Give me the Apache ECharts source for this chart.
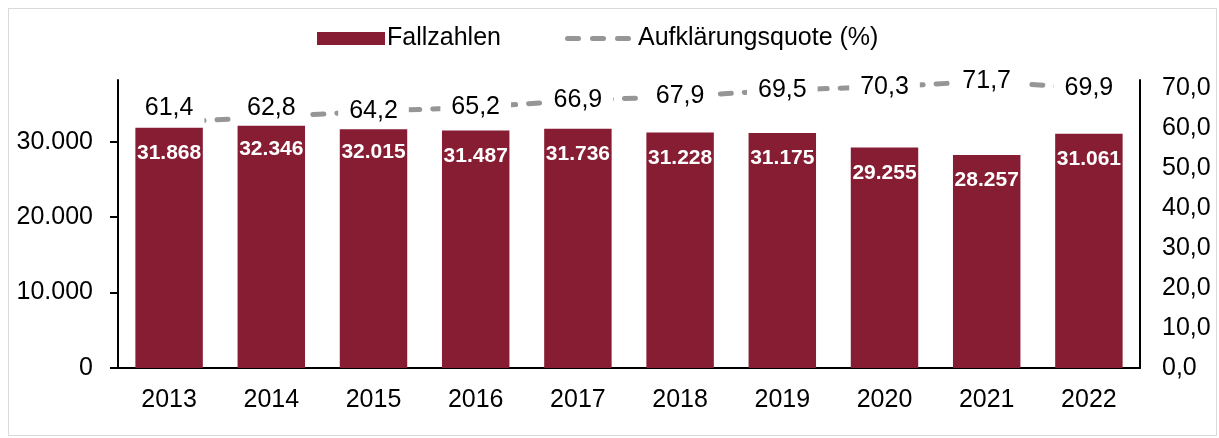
<!DOCTYPE html>
<html>
<head>
<meta charset="utf-8">
<script src="https://cdn.jsdelivr.net/npm/echarts@6/dist/echarts.min.js"></script>
<style>
  html, body { margin: 0; padding: 0; background: #fff; }
  #frame { position: absolute; left: 8px; top: 8px; width: 1209px; height: 428px; border: 1px solid #d9d9d9; box-sizing: border-box; }
  #chart { position: absolute; left: 0; top: 0; width: 1219px; height: 438px; }
</style>
</head>
<body>
<div id="frame"></div>
<div id="chart"></div>
<script>
// data
const years = ['2013', '2014', '2015', '2016', '2017', '2018', '2019', '2020', '2021', '2022'];
const fallzahlen = [31868, 32346, 32015, 31487, 31736, 31228, 31175, 29255, 28257, 31061];
const quote = [61.4, 62.8, 64.2, 65.2, 66.9, 67.9, 69.5, 70.3, 71.7, 69.9];

// first two quote labels are lifted above the point (px), the rest sit on it
const labelLift = [14, 9, 0, 0, 0, 0, 0, 0, 0, 0];

const barColor = '#861d33';
const lineColor = '#969696';
const font = 'Liberation Sans, Arial, sans-serif';

// german number formats
function fmtThousands(v) {
    return String(Math.round(v)).replace(/\B(?=(\d{3})+(?!\d))/g, '.');
}
function fmtDecimal(v) {
    return v.toFixed(1).replace('.', ',');
}

// three rounded dashes for the line's legend key
const dashIcon = 'path://M2.5,0h11a2.5,2.5 0 0 1 0,5h-11a2.5,2.5 0 0 1 0,-5z' +
    'M27.5,0h11a2.5,2.5 0 0 1 0,5h-11a2.5,2.5 0 0 1 0,-5z' +
    'M52.5,0h11a2.5,2.5 0 0 1 0,5h-11a2.5,2.5 0 0 1 0,-5z';

const quoteData = quote.map((v, i) => ({
    value: v,
    label: { offset: [0, -labelLift[i]] }
}));

const ec = echarts.init(document.getElementById('chart'));

ec.setOption({
    animation: false,
    textStyle: { fontFamily: font },
    legend: [
        {
            left: 312,
            top: 21,
            itemWidth: 68,
            itemHeight: 13,
            itemGap: 5,
            textStyle: { fontSize: 25, color: '#000', fontFamily: font, padding: [0, 0, 0, -3] },
            data: [{ name: 'Fallzahlen', icon: 'rect' }]
        },
        {
            left: 560,
            top: 21,
            itemWidth: 66,
            itemHeight: 5,
            textStyle: { fontSize: 25, color: '#000', fontFamily: font, padding: [0, 0, 0, 2] },
            data: [{ name: 'Aufklärungsquote (%)', icon: dashIcon }]
        }
    ],
    grid: { left: 118, right: 79, top: 80, bottom: 70 },
    xAxis: {
        type: 'category',
        data: years,
        axisLine: { lineStyle: { color: '#000', width: 2 } },
        axisTick: { show: false },
        axisLabel: { color: '#000', fontSize: 25, margin: 20, fontFamily: font }
    },
    yAxis: [
        {
            type: 'value',
            min: 0,
            max: 38200,
            interval: 10000,
            splitLine: { show: false },
            axisLine: { show: true, lineStyle: { color: '#000', width: 2 } },
            axisTick: { show: true, length: 8, lineStyle: { color: '#000', width: 2 } },
            axisLabel: {
                color: '#000', fontSize: 25, margin: 25, fontFamily: font,
                showMaxLabel: false,
                formatter: fmtThousands
            }
        },
        {
            type: 'value',
            min: 0,
            max: 72,
            interval: 10,
            splitLine: { show: false },
            axisLine: { show: true, lineStyle: { color: '#000', width: 2 } },
            axisTick: { show: false },
            axisLabel: {
                color: '#000', fontSize: 25, margin: 22, fontFamily: font,
                showMaxLabel: false,
                formatter: fmtDecimal
            }
        }
    ],
    series: [
        {
            name: 'Fallzahlen',
            type: 'bar',
            data: fallzahlen,
            barWidth: '66%',
            itemStyle: { color: barColor },
            label: {
                show: true,
                position: 'insideTop',
                distance: 15,
                color: '#fff',
                fontWeight: 'bold',
                fontSize: 21,
                fontFamily: font,
                formatter: p => fmtThousands(p.value)
            },
            z: 2
        },
        {
            name: 'Aufklärungsquote (%)',
            type: 'line',
            yAxisIndex: 1,
            data: quoteData,
            symbol: 'circle',
            symbolSize: 1,
            itemStyle: { color: lineColor },
            lineStyle: { color: lineColor, width: 5, type: [11, 13], cap: 'round' },
            label: {
                show: true,
                position: 'inside',
                color: '#000',
                fontSize: 25,
                fontFamily: font,
                backgroundColor: '#fff',
                padding: [5, 11, 6, 11],
                formatter: p => fmtDecimal(p.value)
            },
            z: 3
        }
    ]
});
</script>
</body>
</html>
